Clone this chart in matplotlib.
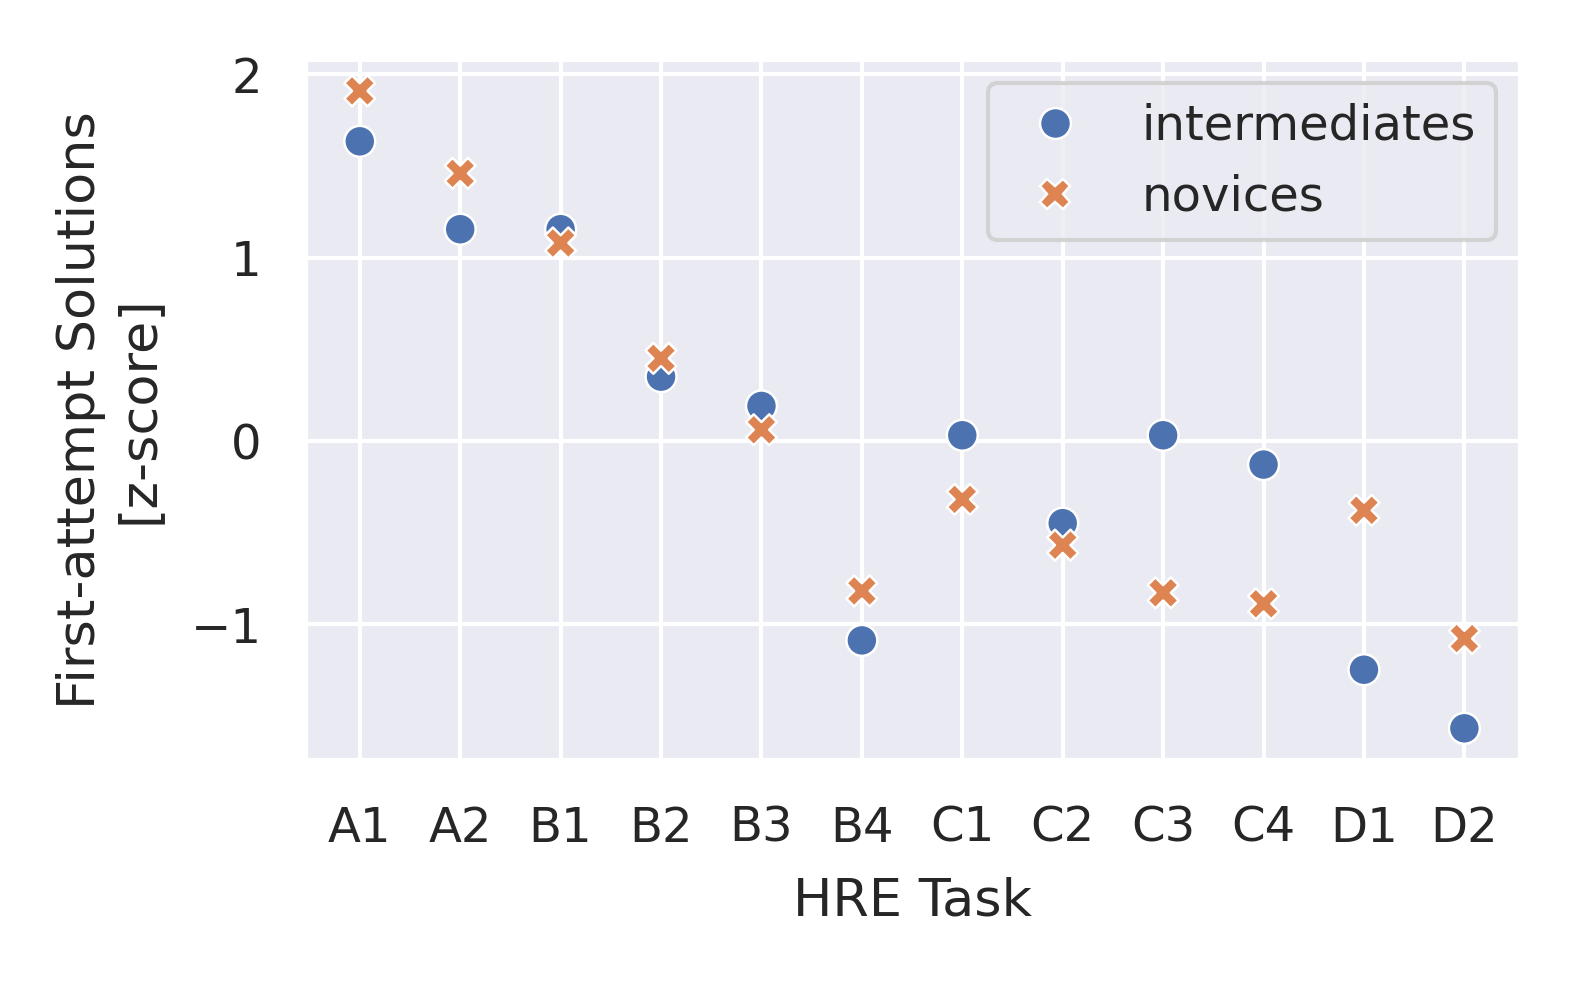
import matplotlib
matplotlib.use("Agg")
import matplotlib.pyplot as plt
import pandas as pd
import seaborn as sns

# Data.
tasks = ["A1", "A2", "B1", "B2", "B3", "B4", "C1", "C2", "C3", "C4", "D1", "D2"]
intermediates = [1.635, 1.155, 1.155, 0.35, 0.19, -1.09,
                 0.03, -0.45, 0.03, -0.13, -1.25, -1.57]
novices = [1.91, 1.46, 1.08, 0.45, 0.06, -0.82,
           -0.32, -0.57, -0.83, -0.89, -0.38, -1.08]

df = pd.DataFrame({
    "task": tasks * 2,
    "z": intermediates + novices,
    "group": ["intermediates"] * len(tasks) + ["novices"] * len(tasks),
})

sns.set_theme(style="darkgrid", font_scale=1.05)

fig, ax = plt.subplots(figsize=(5.26, 3.287), dpi=300)
sns.scatterplot(data=df, x="task", y="z", hue="group", style="group",
                s=55, ax=ax)
ax.set_xlabel("HRE Task", labelpad=6)
ax.set_ylabel("First-attempt Solutions\n[z-score]", labelpad=6.5)
ax.set_yticks([-1, 0, 1, 2])
ax.tick_params(axis="x", pad=4.7)
ax.tick_params(axis="y", pad=4.3)
ax.legend(title=None, loc="upper right")
fig.subplots_adjust(left=0.193, right=0.963, top=0.94, bottom=0.229)
fig.savefig("out.png", dpi=300)
